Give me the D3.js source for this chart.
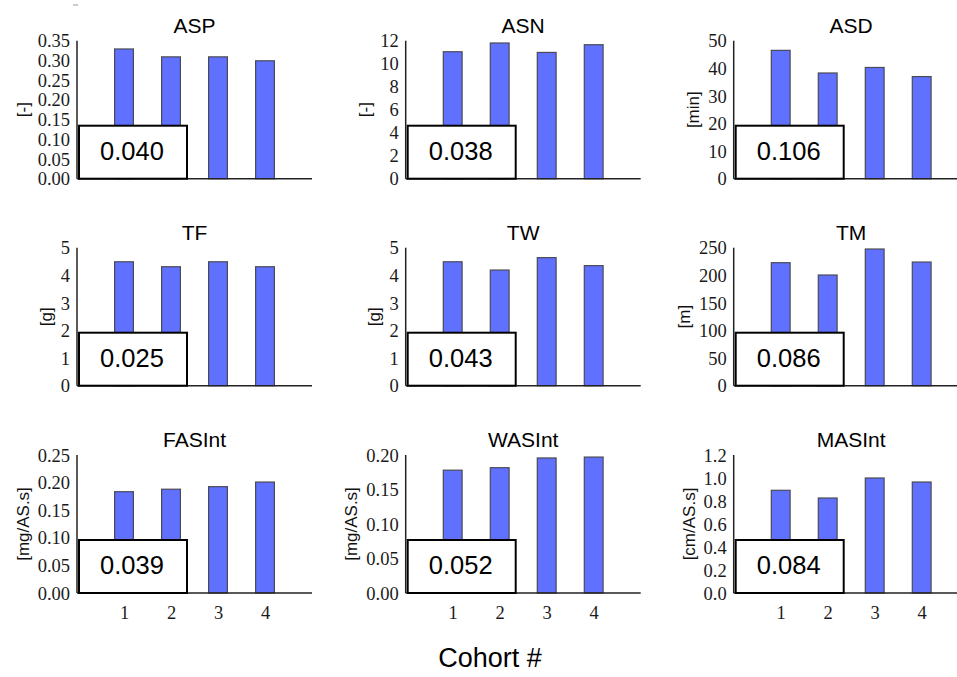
<!DOCTYPE html>
<html>
<head>
<meta charset="utf-8">
<script src="https://cdn.jsdelivr.net/npm/d3@7"></script>
<style>
  html, body { margin: 0; padding: 0; background: #fff; }
  svg { display: block; }
</style>
</head>
<body>
<svg id="chart" width="957" height="677"></svg>
<script>
// Cohort numbers on the shared x axis
const cohorts = [1, 2, 3, 4];

// Panel titles, units, axis ranges
const titles = ["ASP", "ASN", "ASD", "TF", "TW", "TM", "FASInt", "WASInt", "MASInt"];
const units = ["[-]", "[-]", "[min]", "[g]", "[g]", "[m]", "[mg/AS.s]", "[mg/AS.s]", "[cm/AS.s]"];
const yMax = [0.35, 12, 50, 5, 5, 250, 0.25, 0.20, 1.2];
const yStep = [0.05, 2, 10, 1, 1, 50, 0.05, 0.05, 0.2];
const tickFormats = [".2f", "d", "d", "d", "d", "d", ".2f", ".2f", ".1f"];

// Per-measure cohort means
const aspValues = [0.329, 0.309, 0.309, 0.299];
const asnValues = [11.04, 11.80, 10.98, 11.65];
const asdValues = [46.5, 38.3, 40.3, 37.0];
const tfValues = [4.49, 4.31, 4.49, 4.31];
const twValues = [4.49, 4.19, 4.64, 4.35];
const tmValues = [222.8, 200.5, 247.6, 224.0];
const fasintValues = [0.1835, 0.188, 0.1926, 0.201];
const wasintValues = [0.178, 0.1816, 0.1957, 0.197];
const masintValues = [0.893, 0.826, 1.0, 0.965];

// Statistic shown in each panel's inset box
const boxValues = [0.040, 0.038, 0.106, 0.025, 0.043, 0.086, 0.039, 0.052, 0.084];

const seriesList = [aspValues, asnValues, asdValues, tfValues, twValues, tmValues,
                    fasintValues, wasintValues, masintValues];

const svg = d3.select("#chart");

// Grid geometry
const colX = [77, 405.7, 733.7];
const rowTop = [40.7, 247.7, 455];
const plotW = 235, plotH = 138;
const boxW = 108, boxH = 53;

const x = d3.scaleLinear().domain([0, 5]).range([0, plotW]);
const barW = x(0.4) - x(0);

titles.forEach((title, i) => {
  const col = i % 3, row = Math.floor(i / 3);
  const g = svg.append("g").attr("transform", `translate(${colX[col]},${rowTop[row]})`);
  const y = d3.scaleLinear().domain([0, yMax[i]]).range([plotH, 0]);
  const values = seriesList[i];

  // Bars
  g.selectAll("rect.bar").data(cohorts).join("rect")
    .attr("class", "bar")
    .attr("x", d => x(d) - barW / 2)
    .attr("y", (d, k) => y(values[k]))
    .attr("width", barW)
    .attr("height", (d, k) => plotH - y(values[k]))
    .attr("fill", "#6070ff")
    .attr("stroke", "#4a4a55")
    .attr("stroke-width", 1.2);

  // Y axis with labels only
  const ticks = d3.range(0, yMax[i] + yStep[i] / 2, yStep[i]);
  const yAxis = d3.axisLeft(y).tickValues(ticks).tickFormat(d3.format(tickFormats[i]))
    .tickSize(0).tickPadding(7);
  const ya = g.append("g").call(yAxis);
  ya.select(".domain").remove();
  ya.selectAll("text")
    .attr("font-family", "'Liberation Serif', 'Times New Roman', serif")
    .attr("font-size", 18.5)
    .attr("fill", "#1a1a1a")
    .attr("dy", "0.33em");

  g.append("line").attr("x1", 0).attr("x2", 0).attr("y1", 0).attr("y2", plotH)
    .attr("stroke", "#222").attr("stroke-width", 1.5);

  // X axis baseline, labels on the bottom row only
  const xAxis = d3.axisBottom(x).tickValues(cohorts).tickFormat(d3.format("d"))
    .tickSize(0).tickPadding(13);
  const xa = g.append("g").attr("transform", `translate(0,${plotH})`).call(xAxis);
  xa.select(".domain").remove();
  if (row < 2) xa.selectAll("text").remove();
  xa.selectAll("text")
    .attr("font-family", "'Liberation Serif', 'Times New Roman', serif")
    .attr("font-size", 18.5)
    .attr("fill", "#1a1a1a");
  g.append("line").attr("x1", 0).attr("x2", plotW).attr("y1", plotH).attr("y2", plotH)
    .attr("stroke", "#222").attr("stroke-width", 1.5);

  // Title
  g.append("text")
    .attr("x", plotW / 2).attr("y", -8)
    .attr("text-anchor", "middle")
    .attr("font-family", "'Liberation Sans', Arial, sans-serif")
    .attr("font-size", 21)
    .attr("fill", "#000")
    .text(title);

  // Unit label, placed left of the widest tick label
  let maxW = 0;
  ya.selectAll("text").each(function () { maxW = Math.max(maxW, this.getComputedTextLength()); });
  const labelX = -7 - maxW - 7 - 8;
  g.append("text")
    .attr("transform", `translate(${labelX},${plotH / 2}) rotate(-90)`)
    .attr("text-anchor", "middle")
    .attr("dy", "0.35em")
    .attr("font-family", "'Liberation Sans', Arial, sans-serif")
    .attr("font-size", 17)
    .attr("fill", "#111")
    .text(units[i]);

  // Inset box with statistic
  g.append("rect")
    .attr("x", 2).attr("y", plotH - boxH)
    .attr("width", boxW).attr("height", boxH)
    .attr("fill", "#fff").attr("stroke", "#000").attr("stroke-width", 2);
  g.append("text")
    .attr("x", 2 + boxW / 2 - 1).attr("y", plotH - boxH + 34)
    .attr("text-anchor", "middle")
    .attr("font-family", "'Liberation Sans', Arial, sans-serif")
    .attr("font-size", 25.5)
    .attr("fill", "#000")
    .text(d3.format(".3f")(boxValues[i]));
});

// Small stray mark at the top-left corner
svg.append("line").attr("x1", 73).attr("x2", 78).attr("y1", 5).attr("y2", 5)
  .attr("stroke", "#999").attr("stroke-width", 1);

// Shared x-axis title
svg.append("text")
  .attr("x", 490).attr("y", 667)
  .attr("text-anchor", "middle")
  .attr("font-family", "'Liberation Sans', Arial, sans-serif")
  .attr("font-size", 27)
  .attr("fill", "#000")
  .text("Cohort #");
</script>
</body>
</html>
